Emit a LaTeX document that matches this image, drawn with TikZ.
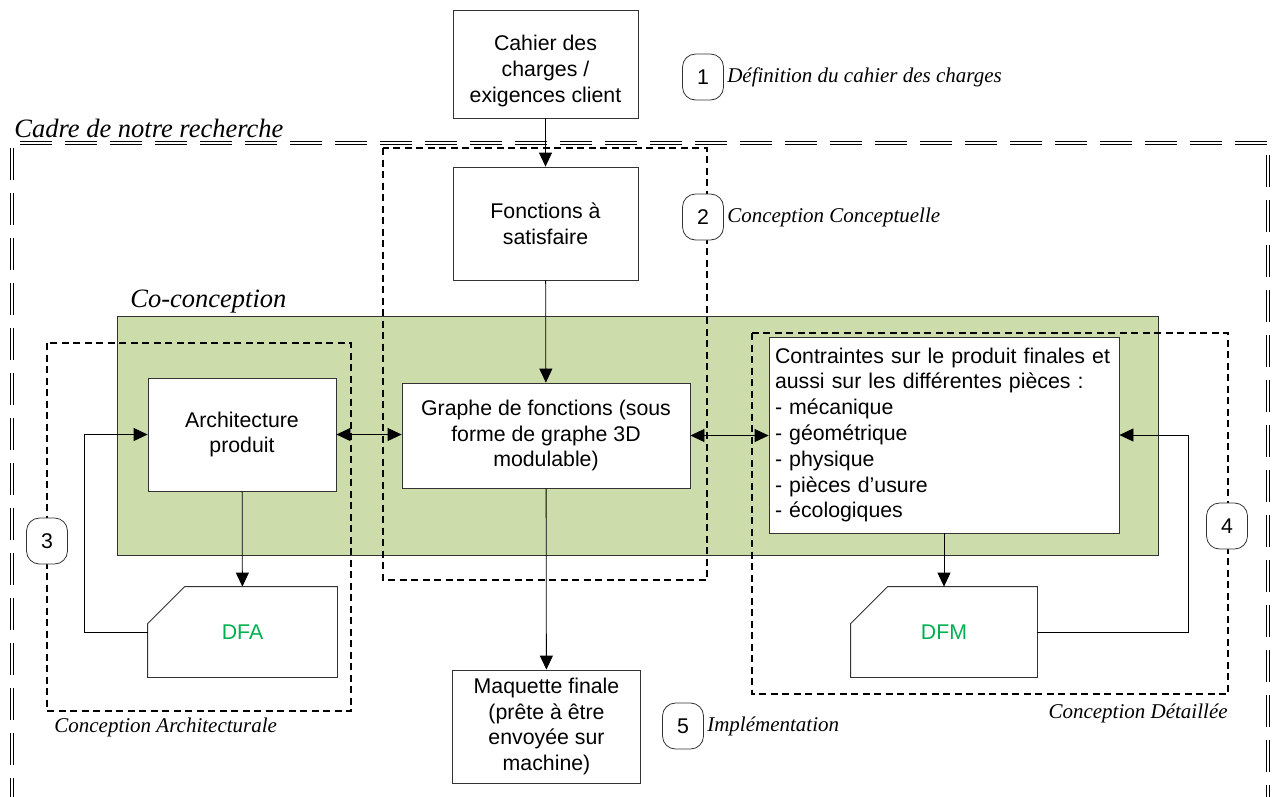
\documentclass[tikz,border=0pt]{standalone}
\usepackage{fontspec}
\setmainfont{Liberation Sans}
\newfontfamily\romfont{Liberation Serif}
\usetikzlibrary{arrows.meta, positioning}
\definecolor{cogreen}{RGB}{204,220,171}
\definecolor{dfgreen}{RGB}{0,176,80}
\tikzset{
  blk/.style={draw=black!80, fill=white, align=center, inner sep=2pt},
  card/.style={text=dfgreen, inner sep=0pt, minimum height=90pt},
  lbl/.style={font=\romfont\itshape\fontsize{21}{25}\selectfont, inner sep=1pt},
  big/.style={font=\romfont\itshape\fontsize{26.5}{30}\selectfont, inner sep=0pt},
  badge/.style={draw=black!80, fill=white, rounded corners=13pt,
    minimum width=41pt, minimum height=46pt, inner sep=0pt},
  zone/.style={line width=1.6pt, dash pattern=on 7pt off 4.5pt},
  frame/.style={double=white, double distance=2.2pt, line width=0.7pt, dash pattern=on 32pt off 13pt},
  arr/.style={-{Triangle[length=14pt,width=13pt]}},
  darr/.style={{Triangle[length=14pt,width=13pt]}-{Triangle[length=14pt,width=13pt]}}
}

\begin{document}
\begin{tikzpicture}[x=1pt, y=-1pt, font=\fontsize{21.3}{25.8}\selectfont, line width=0.8pt]
  \useasboundingbox (0,0) rectangle (1273,796);

  % cadre de recherche
  \draw[frame] (12,810) -- (12,143) -- (1268,143) -- (1268,810);
  \node[big, anchor=base west] (cadre) at (14,137) {Cadre de notre recherche};

  % co-conception
  \draw[draw=black!80, fill=cogreen] (117,316) rectangle (1158,555);
  \node[big, anchor=base west] (coco) at (130,307) {Co-conception};

  % zones en pointille
  \draw[zone] (383,148) rectangle (707,580);
  \draw[zone] (47,343) rectangle (351,711);
  \draw[zone] (752,333) rectangle (1228,694);

  % blocs
  \node[blk, minimum width=185pt, minimum height=108pt] (cahier) at (545.5,64) {};
  \node[align=center] (cahiertxt) at (545.5,71) {Cahier des\\charges /\\exigences client};
  \node[blk, minimum width=185pt, minimum height=113pt] (fonct) at (545.5,223.5) {Fonctions à\\satisfaire};
  \node[blk, minimum width=288pt, minimum height=105pt] (graphe) at (546,435.5) {Graphe de fonctions (sous\\forme de graphe 3D\\modulable)};
  \node[blk, minimum width=188pt, minimum height=113pt] (archi) at (242,434.5) {Architecture\\produit};
  \node[blk, align=left, text width=338pt, inner xsep=6pt, minimum height=196pt] (contr) at (944,435)
    {Contraintes sur le produit finales et\\aussi sur les différentes pièces :\\- mécanique\\- géométrique\\- physique\\- pièces d’usure\\- écologiques};
  \node[blk, minimum width=188pt, minimum height=113pt] (maq) at (546.5,726.5) {Maquette finale\\(prête à être\\envoyée sur\\machine)};

  \node[card, minimum width=189pt] (dfa) at (242.5,632) {DFA};
  \draw[draw=black!80] ([xshift=37pt]dfa.north west) -- (dfa.north east) -- (dfa.south east)
    -- (dfa.south west) -- ([yshift=-37pt]dfa.north west) -- cycle;
  \node[card, minimum width=186pt] (dfm) at (944,632) {DFM};
  \draw[draw=black!80] ([xshift=37pt]dfm.north west) -- (dfm.north east) -- (dfm.south east)
    -- (dfm.south west) -- ([yshift=-37pt]dfm.north west) -- cycle;

  % liaisons
  \draw[arr] (cahier) -- (fonct);
  \draw[arr] (fonct) -- (graphe);
  \draw[arr] (graphe) -- (maq);
  \draw[arr] (archi) -- (dfa);
  \draw[arr] (contr.south -| dfm.north) -- (dfm);
  \draw[darr] (archi.east) -- (archi.east -| graphe.west);
  \draw[darr] (graphe.east) -- (graphe.east -| contr.west);
  \draw[arr] (dfa.west) -| ([xshift=-63pt]archi.west) -- (archi.west);
  \draw[arr] (dfm.east) -| ([xshift=69pt]contr.east) -- (contr.east);

  % etapes
  \node[badge] (b1) at (703,77) {1};
  \node[lbl, right=2pt of b1] (l1) {Définition du cahier des charges};
  \node[badge] (b2) at (703,217) {2};
  \node[lbl, right=2pt of b2] (l2) {Conception Conceptuelle};
  \node[badge] (b3) at (47,541) {3};
  \node[lbl, anchor=west] (l3) at (53,727) {Conception Architecturale};
  \node[badge] (b4) at (1227,526) {4};
  \node[lbl, anchor=east] (l4) at (1229,713) {Conception Détaillée};
  \node[badge] (b5) at (683,726) {5};
  \node[lbl, right=2pt of b5] (l5) {Implémentation};
\end{tikzpicture}
\end{document}
